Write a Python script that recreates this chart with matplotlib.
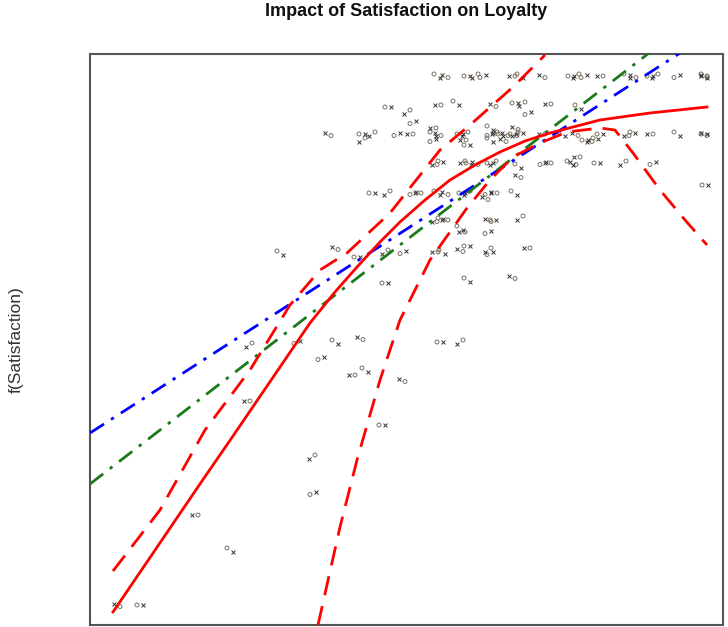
import matplotlib
matplotlib.use("Agg")
import matplotlib.pyplot as plt
import numpy as np

plt.rcParams['font.family'] = ['Liberation Sans', 'DejaVu Sans']

obs_x = [347, 355, 377, 385, 393, 422, 430, 452, 481, 486, 494, 510, 537, 543, 560, 565, 587, 614, 614, 614,
         298, 317, 323, 348, 366, 403, 425, 432, 438, 458, 488,
         238, 272, 282, 307, 320, 343, 348, 370, 375, 400, 405, 410, 415, 423, 425, 430, 452, 472, 485, 510,
         537, 542, 560, 587, 614, 614,
         272, 343, 373, 400, 413, 495, 500, 505, 343, 400, 425, 377,
         345, 350, 373, 378, 385, 400, 403, 453, 458, 480, 483, 507, 533, 563, 487, 428, 428,
         282, 297, 323, 328, 347, 355, 372, 377, 398, 404, 424, 395, 615,
         345, 350, 355, 370, 398, 403, 430, 398, 372,
         190, 245, 267, 295, 313, 345, 352, 370, 377, 398, 400, 437,
         377, 422, 295,
         159, 207, 157, 245, 270, 350, 370, 231, 262, 275, 312, 292, 222, 223, 105, 140, 27, 50]
obs_y = [549] * 20 + \
        [518, 513, 503, 520, 522, 520, 522, 521, 512, 521, 518] + \
        [491] * 26 + \
        [485, 485, 485, 485, 485, 485, 485, 485, 497, 497, 497, 480] + \
        [462] * 14 + [468, 459, 449] + \
        [432] * 11 + [427, 440] + \
        [405, 405, 405, 397, 405, 405, 407, 393, 393] + \
        [372, 377, 368, 373, 373, 373, 373, 375, 379, 375, 372, 377] + \
        [345, 348, 342] + \
        [280, 283, 224, 283, 287, 283, 283, 267, 250, 255, 245, 200, 168, 132, 110, 75, 20, 20]

# fitted curve and bands
fit_x = [23, 112, 143, 220, 245, 267, 290, 310, 335, 360, 385, 410, 435, 460, 510, 560, 617]
fit_y = [13, 144, 189, 302, 333, 358, 383, 403, 425, 445, 460, 473, 484, 492, 505, 512, 518]
upper_x = [23, 70, 115, 160, 200, 230, 257, 300, 350, 380, 423, 455]
upper_y = [54, 115, 195, 255, 320, 355, 372, 412, 475, 500, 538, 570]
lower_x = [228, 250, 267, 290, 310, 340, 377, 400, 423, 450, 477, 510, 525, 543, 570, 595, 617]
lower_y = [0, 98, 165, 245, 305, 365, 417, 445, 468, 482, 493, 497, 495, 472, 435, 405, 380]

# straight-line fits
blue_a, blue_b = 192, 0.644
green_a, green_b = 141, 0.771

fig = plt.figure(figsize=(7.28, 6.27), dpi=100)
ax = fig.add_axes([90 / 728, 2 / 627, 633 / 728, 571 / 627])

ox = np.array(obs_x, dtype=float)
oy = np.array(obs_y, dtype=float)
idx = np.arange(len(ox))
dx = np.where(idx % 2 == 0, -3.0, 3.0)
dy = np.where(idx % 3 == 0, 2.0, np.where(idx % 3 == 1, -1.5, 0.0))
ax.scatter(ox + dx, oy + dy, s=8, marker='o', facecolors='none',
           edgecolors='#7d7060', linewidths=0.7, zorder=2)
ax.scatter(ox - dx, oy - dy, s=8, marker='x', color='#333333',
           linewidths=0.7, zorder=2)

xs = np.array([0, 640])
ax.plot(xs, blue_a + blue_b * xs, color='blue', lw=2, dashes=(6, 3, 1.2, 3), zorder=3)
ax.plot(xs, green_a + green_b * xs, color='#1a7a1a', lw=2, dashes=(6, 3, 1.2, 3), zorder=3)
ax.plot(fit_x, fit_y, color='red', lw=2, zorder=4)
ax.plot(upper_x, upper_y, color='red', lw=2, dashes=(7, 4), zorder=4)
ax.plot(lower_x, lower_y, color='red', lw=2, dashes=(7, 4), zorder=4)

ax.set_xlim(0, 633)
ax.set_ylim(0, 571)
ax.set_xticks([])
ax.set_yticks([])
for sp in ax.spines.values():
    sp.set_color('#555555')
    sp.set_linewidth(1.5)

fig.text((90 + 723) / 2 / 728, 1 - 12 / 627, "Impact of Satisfaction on Loyalty",
         ha='center', va='center', fontsize=13, fontweight='bold', color='#111111')
fig.text(16 / 728, 1 - 340 / 627, "f(Satisfaction)", rotation=90,
         ha='center', va='center', fontsize=12.5, color='#333333')

fig.savefig("out.png", dpi=100)
